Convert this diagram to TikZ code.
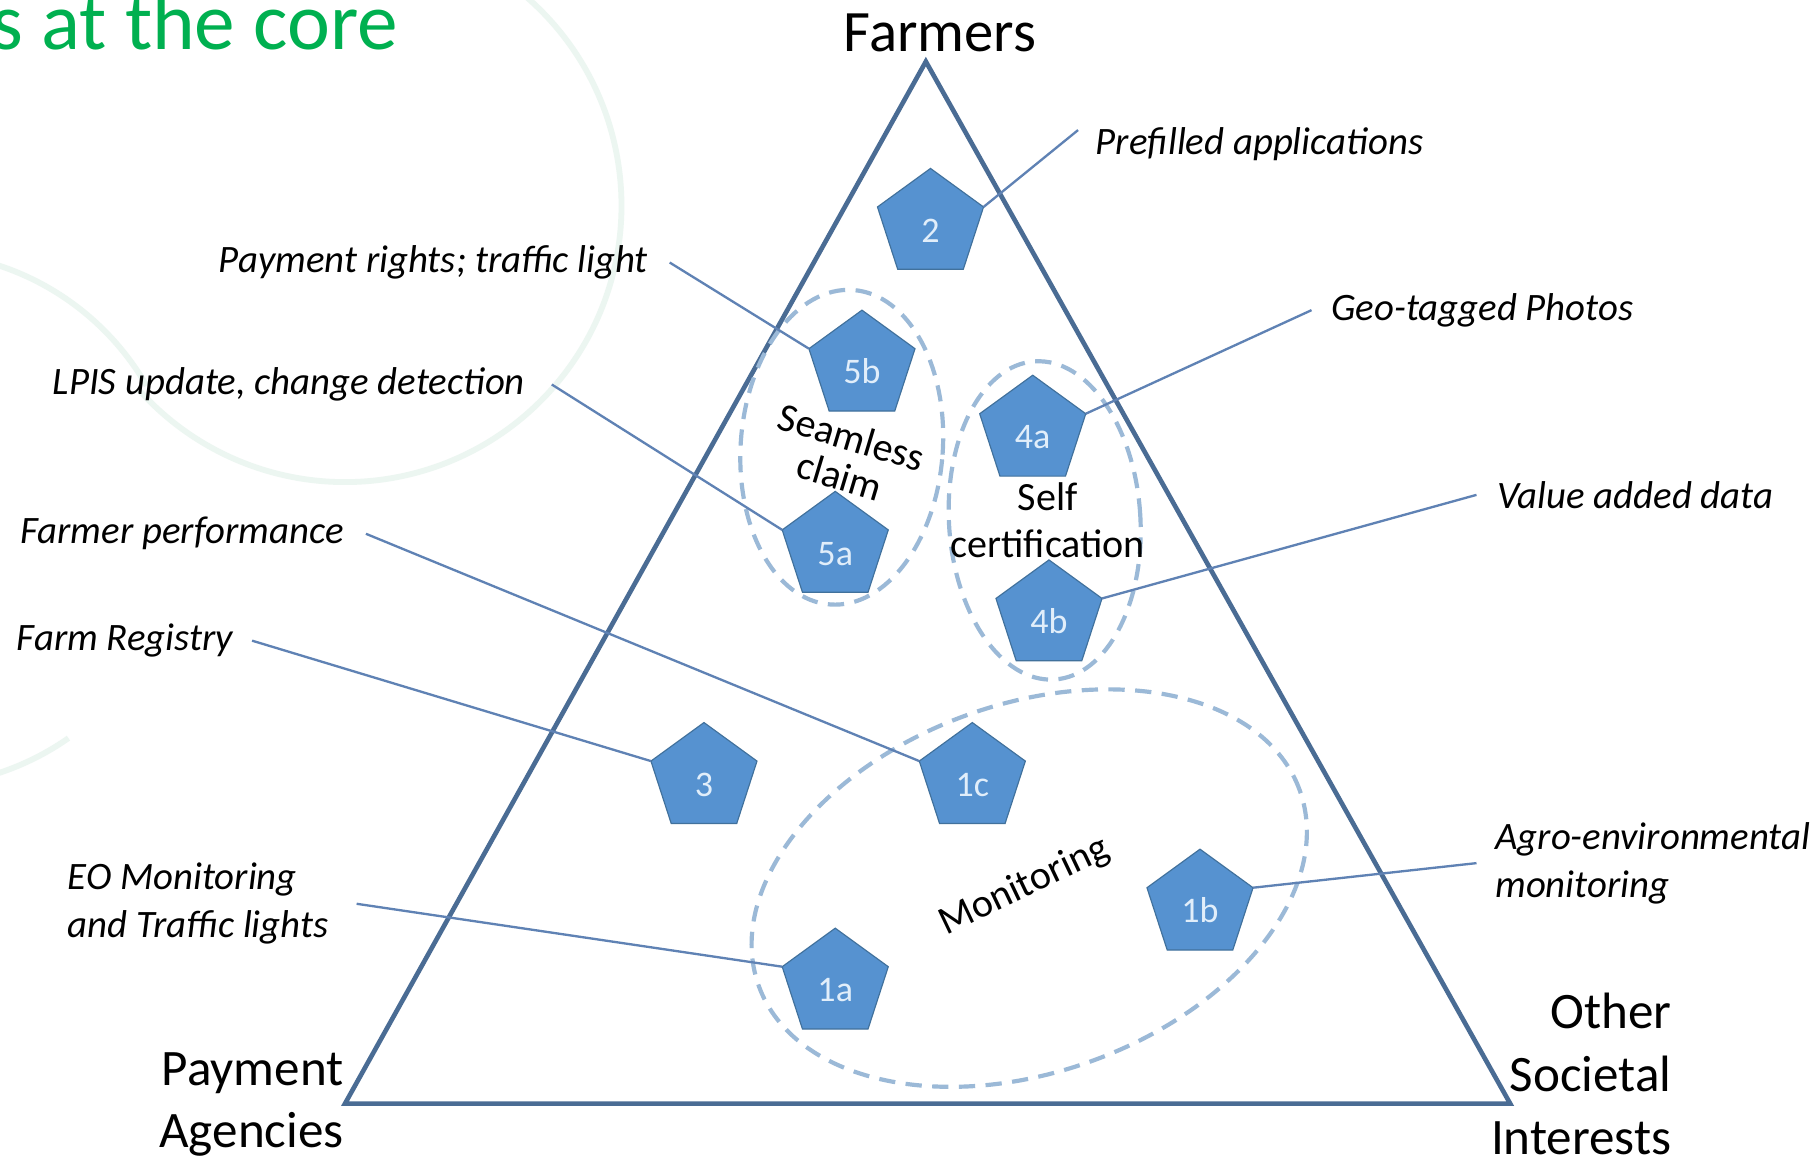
\documentclass[tikz,border=0pt]{standalone}
\usepackage{fontspec}
\setmainfont{Carlito}
\usetikzlibrary{shapes.geometric}
\definecolor{ctri}{RGB}{74,108,148}
\definecolor{cconn}{RGB}{95,130,180}
\definecolor{cgrp}{RGB}{155,185,215}
\definecolor{cpfill}{RGB}{86,146,208}
\definecolor{cpdraw}{RGB}{65,113,156}
\definecolor{cptext}{RGB}{225,238,250}
\definecolor{cbg}{RGB}{236,246,241}
\definecolor{ctitle}{RGB}{0,176,80}
\newcommand\fsz[2]{\fontsize{#1}{#2}\selectfont}
\begin{document}
\begin{tikzpicture}[x=1pt,y=-1pt,
  pent/.style={regular polygon, regular polygon sides=5, minimum size=96pt,
    inner sep=0pt, outer sep=0pt, fill=cpfill, draw=cpdraw, line width=1pt,
    text=cptext, font=\fsz{31}{31}, text height=31pt, text depth=0pt},
  lbl/.style={font=\fsz{33.4}{41}\itshape, inner ysep=0pt, align=left},
  corner/.style={inner sep=0pt, align=right},
  inlbl/.style={font=\fsz{34.5}{35}, inner sep=0pt, align=center},
  conn/.style={draw=cconn, line width=2pt},
  grp/.style={draw=cgrp, line width=3.6pt, dash pattern=on 14pt off 9pt, ellipse, inner sep=0pt, outer sep=0pt},
  bgarc/.style={draw=cbg, line width=5pt},
  trist/.style={draw=ctri, line width=4pt}]
\useasboundingbox (0,0) rectangle (1565,997.7);
\fill[white] (0,0) rectangle (1565,997.7);
% background decoration
\coordinate (bgA) at (297,177);
\coordinate (bgB) at (-73,447);
\draw[bgarc] (bgA) ++(-50:238) arc[start angle=-50, end angle=138.5, radius=238];
\draw[bgarc] (bgB) ++(-78:230) arc[start angle=-78, end angle=-30, radius=230];
\draw[bgarc] (bgB) ++(55:230) arc[start angle=55, end angle=80, radius=230];
% title
\node[anchor=base east, inner sep=0pt, text=ctitle, font=\fsz{70}{70}] (title) at (343,43) {s at the core};
% triangle
\coordinate (apex) at (797,53);
\coordinate (bl) at (297,950);
\coordinate (br) at (1300,950);
\draw[trist] (apex) -- (bl) -- (br) -- cycle;
% groups
\node[grp, minimum width=174pt, minimum height=271.4pt, rotate=-4.2] (gsc) at (724.6,385) {};
\node[grp, minimum width=164.8pt, minimum height=274.4pt, rotate=3.5] (gself) at (899.3,448) {};
\node[grp, minimum width=495.2pt, minimum height=316.6pt, rotate=19.9] (gmon) at (886,764.5) {};
% pentagons
\node[pent] (n2) at (801,193) {2};
\node[pent] (n5b) at (742,315) {5b};
\node[pent] (n5a) at (719,471) {5a};
\node[pent] (n4a) at (889,371) {4a};
\node[pent] (n4b) at (903,530) {4b};
\node[pent] (n3) at (606,670) {3};
\node[pent] (n1c) at (837,670) {1c};
\node[pent] (n1a) at (719,847) {1a};
\node[pent] (n1b) at (1033,779) {1b};
% group labels
\node[inlbl, rotate=-16.7] (sc) at (728,393) {Seamless\\claim};
\node[inlbl, font=\fsz{34.5}{40}] (selfc) at (902,448) {Self\\certification};
\node[inlbl, rotate=25.5] (mon) at (882,763) {Monitoring};
% corner labels
\node[inner sep=0pt, anchor=base, font=\fsz{50.5}{60}] (farmers) at (809,44) {Farmers};
\node[corner, anchor=north east, font=\fsz{44}{53}] (pa) at (296,906) {Payment\\Agencies};
\node[corner, anchor=north east, font=\fsz{44}{54}] (osi) at (1439,855) {Other\\Societal\\Interests};
% left labels
\node[lbl, anchor=east, inner xsep=18.5pt] (pr) at (576.5,226) {Payment rights; traffic light};
\node[lbl, anchor=east, inner xsep=23pt] (lpis) at (475,331) {LPIS update, change detection};
\node[lbl, anchor=east, inner xsep=19pt] (fp) at (315,459.5) {Farmer performance};
\node[lbl, anchor=east, inner xsep=16pt] (fr) at (217,551.5) {Farm Registry};
\node[lbl, anchor=east, inner xsep=24pt] (eo) at (307,778) {EO Monitoring\\and Traffic lights};
% right labels
\node[lbl, anchor=west, inner xsep=15pt] (pre) at (928,124) {Prefilled applications};
\node[lbl, anchor=west, inner xsep=17pt] (geo) at (1129,267) {Geo-tagged Photos};
\node[lbl, anchor=west, inner xsep=18pt] (vad) at (1271,426) {Value added data};
\node[lbl, anchor=west, inner xsep=16pt] (agro) at (1271,743) {Agro-environmental\\monitoring};
% connectors
\draw[conn] (n2.corner 5) -- ([yshift=12pt]pre.west);
\draw[conn] (n4a.corner 5) -- (geo.west);
\draw[conn] (n4b.corner 5) -- (vad.west);
\draw[conn] (n1b.corner 5) -- (agro.west);
\draw[conn] (pr.east) -- (n5b.corner 2);
\draw[conn] (lpis.east) -- (n5a.corner 2);
\draw[conn] (fp.east) -- (n1c.corner 2);
\draw[conn] (fr.east) -- (n3.corner 2);
\draw[conn] (eo.east) -- (n1a.corner 2);
\end{tikzpicture}
\end{document}
